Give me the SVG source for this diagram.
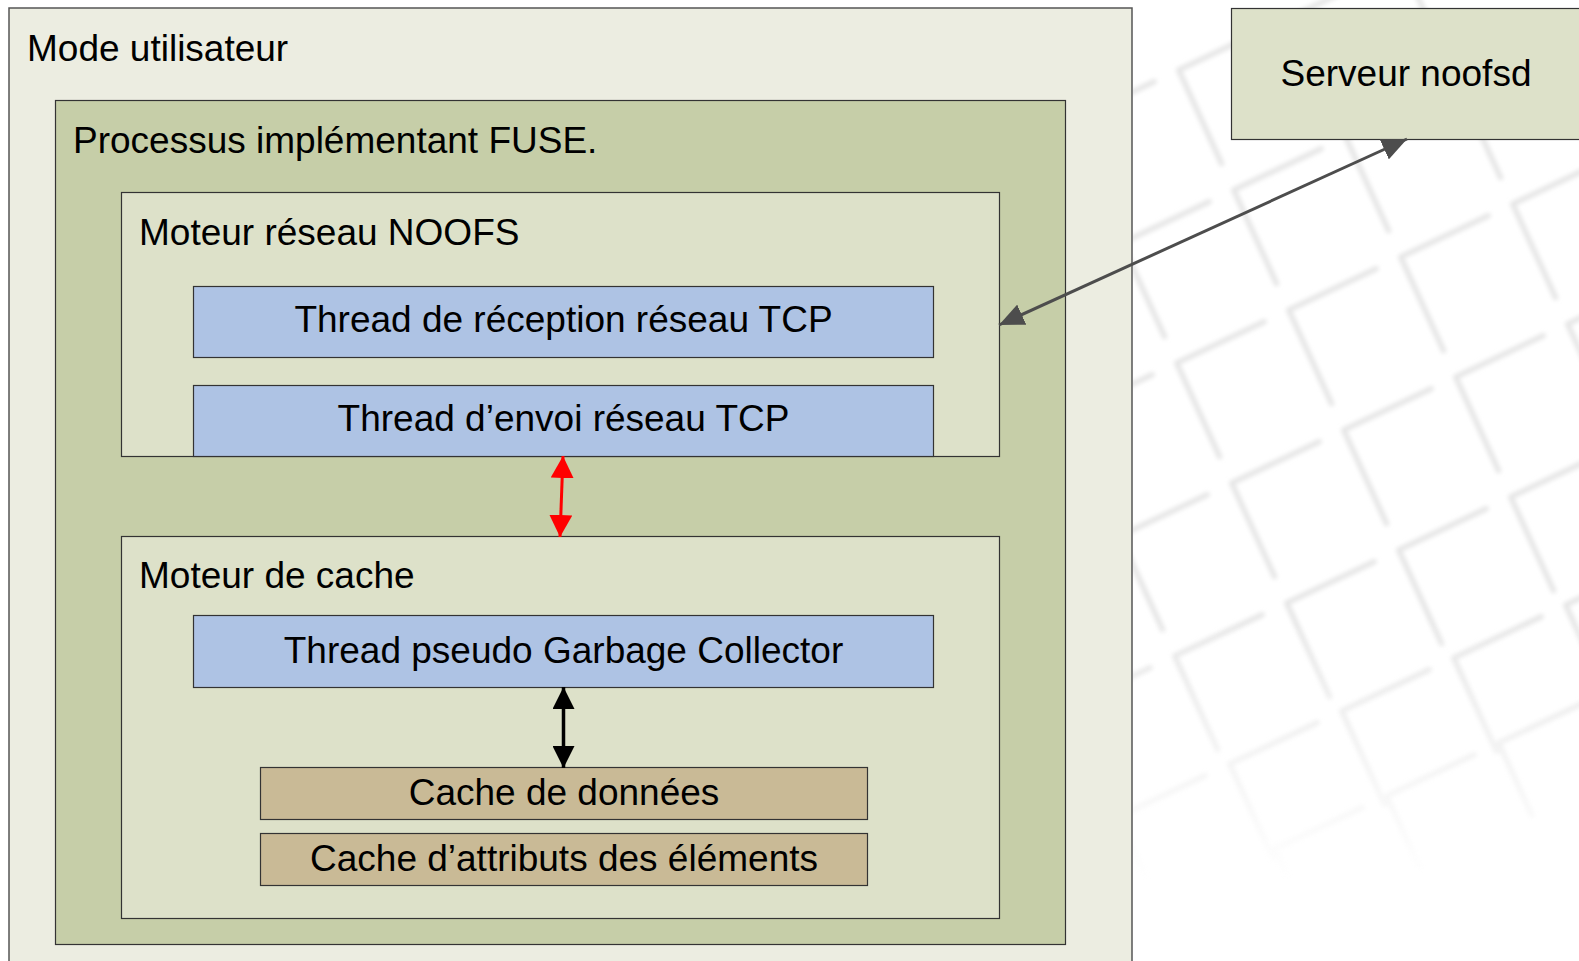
<svg xmlns="http://www.w3.org/2000/svg" width="1579" height="961" viewBox="0 0 1579 961">
<style>
  text { font-family: "Liberation Sans", Arial, sans-serif; font-size: 37px; fill: #000; }
  .c { text-anchor: middle; }
  .box { stroke: #333; stroke-width: 1.2; }
  .outer { fill: #ecede1; stroke: #555; stroke-width: 1.5; }
  .proc { fill: #c6cea8; }
  .engine { fill: #dde1c9; }
  .thread { fill: #aec3e4; }
  .cache { fill: #c9ba96; }
  .grid path { fill: none; stroke: #e6e6e6; stroke-width: 5.5; stroke-linecap: round; stroke-linejoin: round; }
</style>
<defs>
  <marker id="agray" markerUnits="userSpaceOnUse" markerWidth="25" markerHeight="22" viewBox="0 0 25 22" refX="25" refY="11" orient="auto-start-reverse">
    <path d="M0,0 L25,11 L0,22 z" fill="#4d4d4d"/>
  </marker>
  <marker id="ared" markerUnits="userSpaceOnUse" markerWidth="22" markerHeight="23" viewBox="0 0 22 23" refX="22" refY="11.5" orient="auto-start-reverse">
    <path d="M0,0 L22,11.5 L0,23 z" fill="#ff0000"/>
  </marker>
  <marker id="ablack" markerUnits="userSpaceOnUse" markerWidth="22" markerHeight="22" viewBox="0 0 22 22" refX="22" refY="11" orient="auto-start-reverse">
    <path d="M0,0 L22,11 L0,22 z" fill="#000"/>
  </marker>
  <clipPath id="gclip"><rect x="1133" y="0" width="446" height="961"/></clipPath>
  <linearGradient id="fadeg" gradientUnits="userSpaceOnUse" x1="0" y1="620" x2="0" y2="880">
    <stop offset="0" stop-color="#fff"/>
    <stop offset="1" stop-color="#000"/>
  </linearGradient>
  <mask id="fade" maskUnits="userSpaceOnUse" x="0" y="0" width="1579" height="961">
    <rect x="0" y="0" width="1579" height="961" fill="url(#fadeg)"/>
  </mask>
  <filter id="soft" x="-5%" y="-5%" width="110%" height="110%"><feGaussianBlur stdDeviation="2"/></filter>
</defs>
<rect width="1579" height="961" fill="#fff"/>
<g clip-path="url(#gclip)">
<g id="background-grid" class="grid" mask="url(#fade)" filter="url(#soft)">
  <path d="M1109.6,216.6 L1066.7,123 L1154.1,81.7"/>
  <path d="M1221.6,163.6 L1178.7,70 L1266.1,28.7"/>
  <path d="M1333.6,110.6 L1290.7,17 L1378.1,-24.3"/>
  <path d="M1445.6,57.6 L1402.7,-36 L1490.1,-77.3"/>
  <path d="M1164.6,336.6 L1121.7,243 L1209.1,201.7"/>
  <path d="M1276.6,283.6 L1233.7,190 L1321.1,148.7"/>
  <path d="M1388.6,230.6 L1345.7,137 L1433.1,95.7"/>
  <path d="M1500.6,177.6 L1457.7,84 L1545.1,42.7"/>
  <path d="M1612.6,124.6 L1569.7,31 L1657.1,-10.3"/>
  <path d="M1107.6,509.6 L1064.7,416 L1152.1,374.7"/>
  <path d="M1219.6,456.6 L1176.7,363 L1264.1,321.7"/>
  <path d="M1331.6,403.6 L1288.7,310 L1376.1,268.7"/>
  <path d="M1443.6,350.6 L1400.7,257 L1488.1,215.7"/>
  <path d="M1555.6,297.6 L1512.7,204 L1600.1,162.7"/>
  <path d="M1162.6,629.6 L1119.7,536 L1207.1,494.7"/>
  <path d="M1274.6,576.6 L1231.7,483 L1319.1,441.7"/>
  <path d="M1386.6,523.6 L1343.7,430 L1431.1,388.7"/>
  <path d="M1498.6,470.6 L1455.7,377 L1543.1,335.7"/>
  <path d="M1610.6,417.6 L1567.7,324 L1655.1,282.7"/>
  <path d="M1105.6,802.6 L1062.7,709 L1150.1,667.7"/>
  <path d="M1217.6,749.6 L1174.7,656 L1262.1,614.7"/>
  <path d="M1329.6,696.6 L1286.7,603 L1374.1,561.7"/>
  <path d="M1441.6,643.6 L1398.7,550 L1486.1,508.7"/>
  <path d="M1553.6,590.6 L1510.7,497 L1598.1,455.7"/>
  <path d="M1160.6,910.6 L1117.7,817 L1205.1,775.7"/>
  <path d="M1272.6,857.6 L1229.7,764 L1317.1,722.7"/>
  <path d="M1384.6,804.6 L1341.7,711 L1429.1,669.7"/>
  <path d="M1496.6,751.6 L1453.7,658 L1541.1,616.7"/>
  <path d="M1608.6,698.6 L1565.7,605 L1653.1,563.7"/>
  <path d="M1307.7,921 L1274.7,849 L1362.1,807.7"/>
  <path d="M1419.7,868 L1386.7,796 L1474.1,754.7"/>
  <path d="M1531.7,815 L1498.7,743 L1586.1,701.7"/>
</g>
</g>
<g id="mode-utilisateur">
  <rect class="outer" x="9" y="8" width="1123" height="970"/>
  <text x="27" y="61">Mode utilisateur</text>
</g>
<g id="processus-fuse">
  <rect class="box proc" x="55.5" y="100.5" width="1010" height="844"/>
  <text x="73" y="153">Processus implémentant FUSE.</text>
</g>
<g id="moteur-reseau">
  <rect class="box engine" x="121.5" y="192.5" width="878" height="264"/>
  <text x="139" y="245">Moteur réseau NOOFS</text>
</g>
<g id="thread-reception">
  <rect class="box thread" x="193.5" y="286.5" width="740" height="71"/>
  <text class="c" x="563.5" y="332">Thread de réception réseau TCP</text>
</g>
<g id="thread-envoi">
  <rect class="box thread" x="193.5" y="385.5" width="740" height="71"/>
  <text class="c" x="563.5" y="431">Thread d’envoi réseau TCP</text>
</g>
<g id="moteur-cache">
  <rect class="box engine" x="121.5" y="536.5" width="878" height="382"/>
  <text x="139" y="588">Moteur de cache</text>
</g>
<g id="thread-gc">
  <rect class="box thread" x="193.5" y="615.5" width="740" height="72"/>
  <text class="c" x="563.5" y="663">Thread pseudo Garbage Collector</text>
</g>
<g id="cache-donnees">
  <rect class="box cache" x="260.5" y="767.5" width="607" height="52"/>
  <text class="c" x="564" y="805">Cache de données</text>
</g>
<g id="cache-attributs">
  <rect class="box cache" x="260.5" y="833.5" width="607" height="52"/>
  <text class="c" x="564" y="871">Cache d’attributs des éléments</text>
</g>
<g id="serveur-noofsd">
  <rect class="box engine" x="1231.5" y="8.5" width="360" height="131"/>
  <text class="c" x="1406" y="86">Serveur noofsd</text>
</g>
<g id="connectors" fill="none">
  <line x1="999" y1="325" x2="1407" y2="139" stroke="#4d4d4d" stroke-width="3" marker-start="url(#agray)" marker-end="url(#agray)"/>
  <line x1="563" y1="456" x2="560" y2="537" stroke="#ff0000" stroke-width="3" marker-start="url(#ared)" marker-end="url(#ared)"/>
  <line x1="563.5" y1="687" x2="563.5" y2="768" stroke="#000" stroke-width="3.5" marker-start="url(#ablack)" marker-end="url(#ablack)"/>
</g>
</svg>
